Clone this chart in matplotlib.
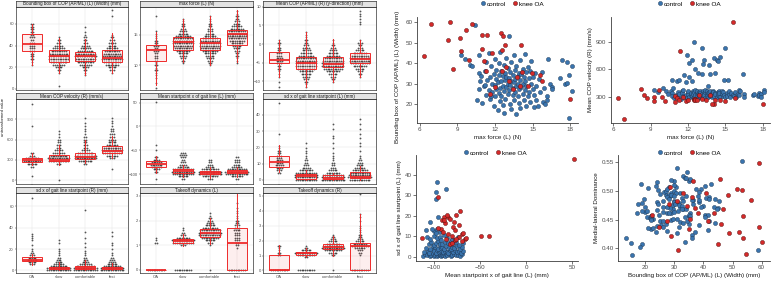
import matplotlib
matplotlib.use("Agg")
import matplotlib.pyplot as plt
from matplotlib.lines import Line2D

plt.rcParams['font.family'] = ['Liberation Sans', 'DejaVu Sans']

W, H = 771, 282

# ---------------- left block: box + swarm panels ----------------
groups = ['OA', 'slow', 'comfortable', 'fast']

titles = ["Bounding box of COP (AP/ML) (L) (Width) (mm)", "max force (L) (N)",
          "Mean COP (AP/ML) (R) (y-direction) (mm)", "Mean COP velocity (R) (mm/s)",
          "Mean startpoint x of gait line (L) (mm)", "sd x of gait line startpoint (L) (mm)",
          "sd x of gait line startpoint (R) (mm)", "Takeoff dynamics (L)", "Takeoff dynamics (R)"]

# box stats per group: (whisker low, q1, median, q3, whisker high)
bbox_box = [(22.4, 34.6, 41.3, 51.1, 60.0), (14.7, 24.8, 30.0, 35.5, 46.5),
            (13.2, 26.0, 30.0, 34.0, 46.0), (15.0, 24.8, 28.5, 35.5, 51.4)]
force_box = [(6.85, 10.65, 12.45, 13.4, 15.4), (10.5, 12.45, 13.8, 14.6, 17.6),
             (10.1, 12.45, 13.6, 14.45, 18.1), (10.5, 13.4, 15.15, 15.7, 19.0)]
meancop_box = [(-8.9, -5.2, -4.3, -2.2, 1.1), (-11.6, -6.8, -5.0, -3.4, 3.3),
               (-10.1, -6.1, -5.4, -3.4, 1.3), (-8.75, -5.0, -4.1, -2.3, 1.1)]
copvel_box = [(225, 260, 290, 325, 400), (230, 275, 300, 375, 520),
              (250, 315, 335, 400, 600), (325, 400, 430, 510, 650)]
start_box = [(-97, -85.7, -78.6, -72, -63), (-107, -98.6, -93.6, -89.3, -80.7),
             (-109, -100.7, -97, -93.6, -86), (-107, -98.6, -95, -91.4, -85.7)]
sdxl_box = [(5.1, 8.2, 11.3, 14.8, 21.5), (0, 0.8, 2.5, 3.7, 6.1),
            (0, 0.4, 1.4, 2.9, 4.5), (0, 1.0, 2.0, 5.1, 8.6)]
sdxr_box = [(5.4, 8.4, 9.9, 12.5, 15.5), (0, 0.9, 2.1, 3.6, 7.6),
            (0, 1.2, 2.4, 4.5, 9.4), (0, 1.2, 2.4, 3.6, 7.2)]
takel_box = [(0, 0, 0, 0, 0), (0.97, 1.09, 1.17, 1.24, 1.47),
             (1.04, 1.33, 1.5, 1.64, 2.1), (0, 0, 1.07, 1.71, 3.07)]
taker_box = [(0, 0, 0, 1.04, 1.7), (0.91, 1.04, 1.15, 1.26, 1.52),
             (0.98, 1.41, 1.57, 1.74, 2.28), (0, 0, 1.65, 1.85, 3.8)]

# observed points per group: (value, number of points at that value)
bbox_oa = [(22.5, 1), (25, 1), (27.5, 2), (30, 2), (32.5, 2), (35, 3), (37.5, 3), (40, 3), (42.5, 3),
           (45, 2), (47.5, 3), (50, 2), (52.5, 2), (55, 2), (57.5, 2), (60, 2)]
bbox_slow = [(2.5, 1), (15, 1), (17.5, 2), (20, 4), (22.5, 7), (25, 10), (27.5, 12), (30, 12), (32.5, 11),
             (35, 9), (37.5, 7), (40, 5), (42.5, 3), (45, 2), (47.5, 1)]
bbox_comf = [(12.5, 1), (15, 1), (17.5, 2), (20, 4), (22.5, 7), (25, 10), (27.5, 12), (30, 13), (32.5, 12),
             (35, 9), (37.5, 6), (40, 5), (42.5, 3), (45, 2), (47.5, 2), (50, 1), (52.5, 1), (57.5, 1)]
bbox_fast = [(15, 1), (17.5, 3), (20, 5), (22.5, 8), (25, 10), (27.5, 12), (30, 11), (32.5, 10), (35, 9),
             (37.5, 7), (40, 5), (42.5, 4), (45, 3), (47.5, 2), (50, 1), (67.5, 1), (72.5, 1)]

force_oa = [(6.4, 1), (7.2, 1), (8.0, 1), (8.4, 1), (8.8, 1), (9.2, 2), (9.6, 1), (10.0, 2), (10.4, 1),
            (10.8, 2), (11.2, 2), (11.6, 2), (12.0, 2), (12.4, 3), (12.8, 2), (13.2, 3), (13.6, 2),
            (14.0, 2), (14.4, 1), (14.8, 1), (15.2, 1), (15.6, 1), (18.0, 1)]
force_slow = [(10.4, 1), (10.8, 2), (11.2, 3), (11.6, 4), (12.0, 6), (12.4, 8), (12.8, 10), (13.2, 11),
              (13.6, 12), (14.0, 12), (14.4, 11), (14.8, 9), (15.2, 6), (15.6, 4), (16.0, 3), (16.4, 2),
              (16.8, 2), (17.2, 1), (17.6, 1)]
force_comf = [(10.0, 1), (10.4, 2), (10.8, 3), (11.2, 4), (11.6, 5), (12.0, 7), (12.4, 9), (12.8, 11),
              (13.2, 12), (13.6, 12), (14.0, 11), (14.4, 9), (14.8, 7), (15.2, 5), (15.6, 3), (16.0, 3),
              (16.4, 2), (16.8, 2), (17.2, 1), (17.6, 1), (18.0, 1)]
force_fast = [(10.4, 1), (10.8, 1), (11.2, 1), (11.6, 2), (12.0, 2), (12.4, 3), (12.8, 4), (13.2, 5),
              (13.6, 7), (14.0, 9), (14.4, 10), (14.8, 11), (15.2, 11), (15.6, 10), (16.0, 8), (16.4, 6),
              (16.8, 4), (17.2, 3), (17.6, 2), (18.0, 2), (18.4, 1), (18.8, 1)]

meancop_oa = [(-11.5, 1), (-10.1, 1), (-8.7, 1), (-8.0, 1), (-7.3, 1), (-6.6, 2), (-5.9, 2), (-5.2, 3),
              (-4.5, 4), (-3.8, 4), (-3.1, 3), (-2.4, 3), (-1.7, 2), (-1.0, 2), (-0.3, 1), (0.4, 2), (1.1, 1)]
meancop_slow = [(-11.5, 1), (-10.8, 1), (-10.1, 2), (-9.4, 3), (-8.7, 4), (-8.0, 6), (-7.3, 8), (-6.6, 10),
                (-5.9, 12), (-5.2, 12), (-4.5, 12), (-3.8, 11), (-3.1, 9), (-2.4, 7), (-1.7, 5), (-1.0, 4),
                (-0.3, 3), (0.4, 2), (1.1, 2), (1.8, 1), (2.5, 1), (3.2, 1)]
meancop_comf = [(-10.1, 1), (-9.4, 2), (-8.7, 3), (-8.0, 5), (-7.3, 8), (-6.6, 11), (-5.9, 13), (-5.2, 13),
                (-4.5, 12), (-3.8, 10), (-3.1, 8), (-2.4, 6), (-1.7, 4), (-1.0, 3), (-0.3, 2), (0.4, 1), (1.1, 1)]
meancop_fast = [(-8.7, 1), (-8.0, 2), (-7.3, 3), (-6.6, 5), (-5.9, 8), (-5.2, 11), (-4.5, 12), (-3.8, 12),
                (-3.1, 10), (-2.4, 8), (-1.7, 5), (-1.0, 3), (-0.3, 2), (0.4, 3), (1.1, 1), (5.3, 1), (6.0, 1),
                (6.7, 1), (7.4, 1), (8.1, 1), (8.8, 1)]

copvel_oa = [(60, 1), (200, 2), (240, 6), (280, 10), (320, 8), (360, 3), (400, 2), (800, 1), (1120, 1)]
copvel_slow = [(0, 1), (240, 3), (280, 12), (320, 13), (360, 10), (400, 7), (440, 5), (480, 3), (520, 3),
               (560, 2), (600, 2), (640, 1), (680, 1), (720, 1)]
copvel_comf = [(240, 2), (280, 8), (320, 13), (360, 13), (400, 9), (440, 5), (480, 3), (520, 3), (560, 2),
               (600, 2), (640, 2), (680, 1), (720, 1), (760, 1), (800, 1), (840, 1), (920, 1)]
copvel_fast = [(160, 1), (320, 3), (360, 7), (400, 11), (440, 12), (480, 10), (520, 7), (560, 5), (600, 4),
               (640, 3), (680, 3), (720, 2), (760, 2), (800, 1), (840, 1), (880, 1), (920, 1)]

start_oa = [(-110, 1), (-95, 2), (-90, 4), (-85, 6), (-80, 7), (-75, 6), (-70, 4), (-65, 2), (-50, 1),
            (-40, 1), (52, 1)]
start_slow = [(-110, 2), (-105, 6), (-100, 12), (-95, 14), (-90, 12), (-85, 7), (-80, 4), (-75, 3),
              (-70, 2), (-65, 3), (-60, 4), (-55, 3)]
start_comf = [(-110, 3), (-105, 9), (-100, 14), (-95, 14), (-90, 10), (-85, 5), (-80, 3), (-75, 2), (-70, 2)]
start_fast = [(-110, 2), (-105, 7), (-100, 13), (-95, 14), (-90, 11), (-85, 6), (-80, 4), (-75, 3),
              (-70, 3), (-65, 2)]

sdxl_oa = [(4.5, 2), (6, 3), (7.5, 4), (9, 5), (10.5, 4), (12, 4), (13.5, 3), (15, 3), (16.5, 2), (18, 2),
           (19.5, 1), (21, 1), (28.5, 1), (47.5, 1)]
sdxl_slow = [(0, 12), (1.5, 14), (3, 14), (4.5, 12), (6, 8), (7.5, 5), (9, 3), (10.5, 2), (12, 2), (13.5, 1),
             (15, 1), (16.5, 1), (18, 1), (19.5, 1), (22.5, 1)]
sdxl_comf = [(0, 14), (1.5, 14), (3, 12), (4.5, 8), (6, 5), (7.5, 3), (9, 2), (10.5, 2), (12, 1), (13.5, 1),
             (15, 1), (16.5, 1), (19.5, 1), (22.5, 1), (25.5, 1), (27, 1), (31.5, 1), (34.5, 1)]
sdxl_fast = [(0, 12), (1.5, 14), (3, 13), (4.5, 11), (6, 9), (7.5, 6), (9, 4), (10.5, 3), (12, 2), (13.5, 1),
             (15, 1), (18, 1), (21, 1), (22.5, 1), (25.5, 1), (28.5, 1), (31.5, 1), (34.5, 1), (37.5, 1)]

sdxr_oa = [(6, 3), (8, 5), (10, 6), (12, 5), (14, 3), (16, 2), (18, 1), (20, 1), (24, 1), (28, 1), (30, 1),
           (32, 1), (34, 1), (68, 1)]
sdxr_slow = [(0, 14), (2, 14), (4, 10), (6, 6), (8, 4), (10, 3), (12, 2), (14, 1), (16, 1), (18, 1), (20, 1),
             (26, 1), (28, 1)]
sdxr_comf = [(0, 14), (2, 14), (4, 11), (6, 7), (8, 4), (10, 3), (12, 2), (14, 1), (16, 1), (18, 1), (22, 1),
             (26, 1), (30, 1), (36, 1), (56, 1)]
sdxr_fast = [(0, 14), (2, 14), (4, 10), (6, 6), (8, 4), (10, 3), (12, 2), (14, 1), (16, 1), (20, 1), (24, 1),
             (26, 1), (32, 1), (36, 1)]

takel_oa = [(0, 10), (1.1, 2), (1.2, 1), (1.3, 1)]
takel_slow = [(0, 10), (1.0, 3), (1.1, 12), (1.2, 14), (1.3, 8), (1.4, 3), (1.5, 2), (1.6, 1), (1.7, 1)]
takel_comf = [(0, 1), (1.0, 1), (1.1, 3), (1.2, 6), (1.3, 10), (1.4, 13), (1.5, 14), (1.6, 12), (1.7, 9),
              (1.8, 6), (1.9, 4), (2.0, 3), (2.1, 2), (2.2, 1), (2.3, 1)]
takel_fast = [(0, 10), (0.9, 1), (1.0, 2), (1.1, 2), (1.2, 3), (1.3, 3), (1.4, 3), (1.5, 3), (1.6, 4),
              (1.7, 3), (1.8, 3), (1.9, 2), (2.0, 2), (2.1, 1), (2.2, 1), (2.3, 1), (2.4, 1), (2.5, 1), (2.7, 1)]

taker_oa = [(0, 10), (1.05, 2), (1.2, 2), (1.35, 1), (1.5, 1), (1.65, 2)]
taker_slow = [(0, 10), (0.9, 2), (1.05, 10), (1.2, 14), (1.35, 6), (1.5, 2), (1.65, 1)]
taker_comf = [(0, 1), (1.05, 2), (1.2, 5), (1.35, 10), (1.5, 14), (1.65, 12), (1.8, 8), (1.95, 5), (2.1, 3),
              (2.25, 2), (2.4, 1)]
taker_fast = [(0, 10), (1.05, 1), (1.2, 2), (1.35, 3), (1.5, 6), (1.65, 10), (1.8, 8), (1.95, 5), (2.1, 3),
              (2.25, 2), (2.4, 2), (2.55, 1), (2.7, 1), (2.85, 1), (3.0, 1), (3.3, 1), (3.6, 1), (3.75, 1),
              (5.15, 1)]

# ---------------- right block: scatter data ----------------
ctrl_force = [9.3, 9.6, 9.98, 10.2, 10.4, 10.6, 10.7, 10.75, 10.75, 10.83,
              10.9, 11.0, 11.1, 11.2, 11.2, 11.3, 11.3, 11.4, 11.5, 11.5,
              11.6, 11.6, 11.7, 11.7, 11.8, 11.8, 11.9, 11.9, 12.0, 12.0,
              12.0, 12.1, 12.1, 12.1, 12.2, 12.2, 12.3, 12.3, 12.3, 12.4,
              12.4, 12.4, 12.5, 12.5, 12.5, 12.6, 12.6, 12.6, 12.7, 12.7,
              12.7, 12.8, 12.8, 12.8, 12.9, 12.9, 12.9, 13.0, 13.0, 13.0,
              13.1, 13.1, 13.1, 13.2, 13.2, 13.2, 13.3, 13.3, 13.3, 13.4,
              13.4, 13.4, 13.5, 13.5, 13.5, 13.6, 13.6, 13.6, 13.7, 13.7,
              13.7, 13.8, 13.8, 13.8, 13.9, 13.9, 13.9, 14.0, 14.0, 14.0,
              14.1, 14.1, 14.2, 14.2, 14.2, 14.3, 14.3, 14.4, 14.4, 14.4,
              14.5, 14.5, 14.5, 14.6, 14.6, 14.7, 14.7, 14.8, 14.8, 14.9,
              14.9, 15.0, 15.0, 15.1, 15.1, 15.2, 15.3, 15.3, 15.4, 15.5,
              15.6, 15.7, 15.8, 15.9, 16.0, 16.1, 16.1, 16.4, 16.5, 16.5,
              17.2, 17.3, 17.6, 17.7, 17.7, 17.9, 17.9, 18.1, 18.1, 16.2]
ctrl_bbox = [43.7, 42.0, 39.2, 38.4, 58.7, 22.1, 27.3, 35.1, 44.1, 31.1,
             33.5, 20.5, 29.0, 29.4, 36.0, 24.6, 40.5, 31.5, 27.0, 45.0,
             33.0, 22.5, 23.7, 38.5, 30.0, 26.0, 34.5, 19.0, 42.0, 29.5,
             24.0, 32.0, 36.5, 27.5, 17.0, 30.5, 40.0, 25.5, 34.0, 21.5,
             28.0, 45.5, 31.0, 36.0, 24.0, 19.5, 33.5, 29.0, 39.0, 26.5,
             15.5, 31.5, 35.0, 22.5, 28.5, 42.5, 33.0, 25.0, 30.0, 37.5,
             53.3, 27.0, 32.5, 20.0, 35.5, 29.5, 17.5, 40.5, 31.0, 24.5,
             34.0, 28.0, 44.0, 30.5, 22.0, 36.5, 26.0, 32.0, 15.0, 29.0,
             38.5, 33.5, 24.0, 30.0, 20.5, 35.0, 27.5, 41.5, 31.5, 18.0,
             28.5, 34.5, 25.0, 37.0, 30.0, 22.0, 33.0, 44.5, 27.0, 31.0,
             19.0, 35.5, 29.0, 24.0, 38.0, 32.5, 26.0, 21.0, 36.0, 30.0,
             41.0, 27.5, 33.0, 18.5, 24.5, 35.0, 22.1, 29.0, 18.9, 32.0,
             26.0, 35.5, 21.0, 28.0, 20.0, 23.7, 21.8, 30.0, 28.3, 27.3,
             32.7, 41.6, 29.7, 40.5, 30.2, 34.0, 13.2, 38.4, 26.2, 42.0]
ctrl_vel = [380, 350, 400, 370, 330, 360, 480, 340, 310, 400,
            290, 320, 470, 300, 350, 480, 330, 280, 360, 340,
            310, 380, 540, 300, 460, 320, 760, 290, 350, 330,
            370, 670, 520, 300, 320, 340, 700, 470, 310, 360,
            290, 330, 900, 350, 300, 600, 320, 380, 340, 310,
            360, 330, 560, 290, 350, 320, 300, 370, 340, 310,
            550, 830, 330, 660, 300, 360, 700, 340, 320, 290,
            350, 380, 330, 310, 360, 340, 300, 420, 650, 320,
            350, 550, 310, 370, 340, 300, 330, 360, 320, 350,
            730, 310, 560, 340, 330, 700, 300, 690, 350, 320,
            310, 360, 340, 740, 300, 330, 370, 310, 350, 320,
            480, 830, 300, 340, 310, 480, 330, 360, 300, 340,
            320, 310, 350, 300, 330, 380, 320, 550, 330, 300,
            320, 330, 310, 340, 320, 330, 300, 380, 350, 370]
ctrl_mld = [0.472, 0.448, 0.503, 0.481, 0.398, 0.433, 0.462, 0.518, 0.487, 0.466,
            0.412, 0.455, 0.497, 0.476, 0.424, 0.458, 0.509, 0.437, 0.494, 0.471,
            0.527, 0.452, 0.428, 0.484, 0.501, 0.463, 0.534, 0.407, 0.489, 0.469,
            0.516, 0.446, 0.478, 0.431, 0.461, 0.496, 0.474, 0.441, 0.492, 0.453,
            0.508, 0.483, 0.541, 0.418, 0.467, 0.486, 0.523, 0.449, 0.473, 0.499,
            0.388, 0.479, 0.457, 0.436, 0.491, 0.512, 0.468, 0.447, 0.482, 0.504,
            0.552, 0.443, 0.488, 0.464, 0.521, 0.451, 0.477, 0.459, 0.426, 0.502,
            0.469, 0.493, 0.445, 0.507, 0.456, 0.485, 0.438, 0.473, 0.409, 0.462,
            0.498, 0.454, 0.481, 0.517, 0.466, 0.442, 0.489, 0.458, 0.476, 0.402,
            0.471, 0.448, 0.495, 0.429, 0.511, 0.457, 0.483, 0.468, 0.501, 0.452,
            0.479, 0.461, 0.519, 0.439, 0.492, 0.474, 0.447, 0.506, 0.484, 0.463,
            0.488, 0.472, 0.444, 0.513, 0.478, 0.459, 0.451, 0.494, 0.466, 0.497,
            0.482, 0.457, 0.436, 0.487, 0.473, 0.509, 0.449, 0.481, 0.462, 0.503,
            0.468, 0.432, 0.491, 0.454, 0.477, 0.522, 0.419, 0.441, 0.473, 0.486]

oa_force = [6.37, 6.88, 8.23, 8.44, 8.7, 9.24, 9.29, 9.66, 9.9, 10.16,
            10.96, 10.96, 11.1, 11.36, 11.25, 11.6, 11.8, 12.0, 12.45, 12.52,
            12.55, 12.6, 12.76, 12.87, 14.06, 14.14, 14.6, 14.97, 15.6, 15.76,
            18.0, 13.1, 13.45, 13.77, 13.95]
oa_bbox = [43.6, 59.0, 51.4, 60.3, 37.2, 52.2, 45.7, 56.3, 41.6, 59.0,
           53.5, 46.8, 40.8, 53.5, 35.9, 24.7, 44.9, 28.3, 54.6, 46.2,
           36.3, 53.3, 48.9, 38.0, 48.6, 35.4, 28.6, 35.0, 34.3, 31.2,
           22.4, 31.0, 27.5, 33.0, 29.0]
oa_vel = [293, 64, 391, 325, 293, 300, 256, 373, 300, 256,
          311, 245, 293, 802, 264, 300, 256, 264, 275, 264,
          278, 271, 264, 318, 227, 264, 271, 253, 1115, 290,
          227, 278, 264, 318, 227]
oa_mld = [0.462, 0.438, 0.503, 0.412, 0.471, 0.428, 0.521, 0.484, 0.447, 0.549,
          0.419, 0.468, 0.497, 0.456, 0.489, 0.437, 0.408, 0.478, 0.391, 0.443,
          0.517, 0.502, 0.426, 0.461, 0.493, 0.452, 0.508, 0.433, 0.474, 0.398,
          0.458, 0.482, 0.447, 0.496, 0.421]

ctrl_startx = [-112, -110, -108, -106, -104, -103, -101, -100, -99, -98, -97, -96, -95, -94, -93,
               -92, -91, -90, -89, -88, -87, -86, -84, -82, -80, -78, -76, -74, -72, -70,
               -111, -107, -105, -102, -100, -98, -97, -95, -93, -92, -90, -88, -86, -85, -83,
               -81, -79, -77, -75, -73, -71, -69,
               -109, -104, -101, -99, -96, -94, -92, -91, -89, -87, -84, -82, -80, -78, -75,
               -72, -70,
               -106, -103, -100, -98, -96, -93, -91, -88, -85, -82, -79, -76, -73, -69,
               -108, -104, -100, -97, -94, -92, -89, -86, -80, -74,
               -96.4, -97.5, -97.5, -86.6, -95.7, -104.7, -109, -100, -96.4, -101.8, -94, -98]
ctrl_sdx = [0.3, 1.0, 0.6, 1.4, 0.2, 0.8, 1.2, 0.4, 0.9, 1.5, 0.1, 0.7, 1.1, 0.5, 1.3,
            0.2, 0.9, 0.6, 1.4, 0.3, 1.0, 0.7, 1.2, 0.4, 0.8, 1.1, 0.5, 0.9, 0.3, 1.2,
            2.1, 2.8, 1.9, 3.3, 2.5, 1.8, 3.0, 2.2, 2.7, 3.4, 2.0, 2.9, 2.4, 1.7, 3.1,
            2.6, 2.0, 3.2, 2.3, 2.8, 1.9, 2.5,
            4.2, 3.8, 5.0, 4.5, 3.7, 5.3, 4.1, 4.8, 3.9, 5.1, 4.4, 3.6, 4.9, 4.3, 5.2,
            3.8, 4.6,
            6.1, 7.2, 5.8, 6.8, 7.5, 6.3, 5.9, 7.0, 6.5, 7.4, 6.0, 6.9, 5.7, 6.6,
            9.4, 8.6, 10.2, 8.9, 9.8, 8.3, 10.6, 9.1, 8.5, 9.6,
            36.4, 31.7, 28.0, 33.2, 19.3, 17.1, 13.0, 12.5, 13.3, 13.7, 12.0, 11.5]
oa_startx = [-112.7, -95.7, -91.3, -89, -84.8, -83, -86, -92, -88.4, -79.3,
             -77.5, -75.7, -72, -81, -84.8, -73.2, -69.6, -68, -66.6, -72.4,
             -77.5, -75.7, -83, -49, -40, 52.4, -95.7, -89, -86.6, -65,
             -80, -70, -90, -78]
oa_sdx = [8.9, 29.3, 17.9, 19.5, 19.5, 18.5, 20.5, 13.3, 16.3, 14.5,
          12.8, 20.2, 22.3, 10.1, 10.9, 15.3, 11.2, 11.7, 8.8, 9.8,
          8.0, 8.5, 6.3, 10.1, 10.1, 47.8, 14.1, 17.7, 8.5, 9.2,
          6.8, 7.8, 12.0, 17.0]

# ---------------- drawing ----------------
RED = '#ee2a2a'
BLUE = '#3a74ae'
REDP = '#d42a2a'
DARK = '#333333'


def rect(x0, y0, x1, y1):
    return [x0 / W, 1 - y1 / H, (x1 - x0) / W, (y1 - y0) / H]


fig = plt.figure(figsize=(W / 100, H / 100), dpi=100)

cols = [(16, 128), (140, 253), (263, 376)]
rows = [(6.5, 90), (99, 184), (193, 273)]

panels = [
    (titles[0], bbox_box, [bbox_oa, bbox_slow, bbox_comf, bbox_fast], (-1, 76), [0, 20, 40, 60]),
    (titles[1], force_box, [force_oa, force_slow, force_comf, force_fast], (6.0, 19.6), [10, 15]),
    (titles[2], meancop_box, [meancop_oa, meancop_slow, meancop_comf, meancop_fast], (-12.3, 10.05),
     [-10, -5, 0, 5, 10]),
    (titles[3], copvel_box, [copvel_oa, copvel_slow, copvel_comf, copvel_fast], (-59, 1201),
     [0, 300, 600, 900]),
    (titles[4], start_box, [start_oa, start_slow, start_comf, start_fast], (-121, 57.8), [-100, -50, 0, 50]),
    (titles[5], sdxl_box, [sdxl_oa, sdxl_slow, sdxl_comf, sdxl_fast], (-2.5, 49.8), [0, 10, 20, 30, 40]),
    (titles[6], sdxr_box, [sdxr_oa, sdxr_slow, sdxr_comf, sdxr_fast], (-2.4, 72.3), [0, 20, 40, 60]),
    (titles[7], takel_box, [takel_oa, takel_slow, takel_comf, takel_fast], (-0.13, 3.12), [0, 1, 2, 3]),
    (titles[8], taker_box, [taker_oa, taker_slow, taker_comf, taker_fast], (-0.17, 5.19),
     [0, 1, 2, 3, 4, 5]),
]

DX = 0.065
for i, (title, box, pts, ylim, yticks) in enumerate(panels):
    r, c = divmod(i, 3)
    x0, x1 = cols[c]
    y0, y1 = rows[r]
    ax = fig.add_axes(rect(x0, y0, x1, y1))
    ax.set_facecolor('white')
    xs, ys = [], []
    for g, gp in enumerate(pts):
        for v, n in gp:
            for k in range(n):
                xs.append(g + 1 + (k - (n - 1) / 2) * DX)
                ys.append(v)
    ax.scatter(xs, ys, s=1.7, c='#151515', alpha=0.72, linewidths=0, zorder=2)
    stats = [dict(whislo=b[0], q1=b[1], med=b[2], q3=b[3], whishi=b[4]) for b in box]
    ax.bxp(stats, positions=[1, 2, 3, 4], widths=0.75, patch_artist=True, showfliers=False,
           showcaps=False,
           boxprops=dict(facecolor=(0.93, 0.16, 0.16, 0.08), edgecolor=RED, linewidth=0.7),
           medianprops=dict(color=RED, linewidth=1.3),
           whiskerprops=dict(color=RED, linewidth=0.7))
    ax.set_xlim(0.4, 4.6)
    ax.set_ylim(*ylim)
    ax.set_yticks(yticks)
    ax.set_xticks([1, 2, 3, 4])
    if r == 2:
        ax.set_xticklabels(groups)
    else:
        ax.set_xticklabels([])
    ax.grid(True, color='#e4e4e4', lw=0.35)
    ax.set_axisbelow(True)
    ax.tick_params(labelsize=3.0, length=1.0, width=0.35, pad=0.6, colors=DARK, labelcolor='#4d4d4d')
    for s in ax.spines.values():
        s.set_color(DARK)
        s.set_linewidth(0.5)
    sax = fig.add_axes(rect(x0, y0 - 6, x1, y0))
    sax.set_facecolor('#e3e3e3')
    sax.set_xticks([])
    sax.set_yticks([])
    for s in sax.spines.values():
        s.set_color(DARK)
        s.set_linewidth(0.5)
    sax.text(0.5, 0.45, title, ha='center', va='center', fontsize=3.3, color='#1a1a1a',
             transform=sax.transAxes)

fig.text(2.6 / W, 1 - 117 / H, 'untransformed value', rotation=90, ha='center', va='center',
         fontsize=3.1, color='#1a1a1a')


def scatter_panel(r, xc, yc, xo, yo, xlim, ylim, xticks, yticks, xlabel, ylabel, leg, ytl=None):
    ax = fig.add_axes(rect(*r))
    ax.scatter(xc, yc, s=9, c=BLUE, edgecolors='#1d3550', linewidths=0.3, zorder=3)
    ax.scatter(xo, yo, s=9, c=REDP, edgecolors='#4a0d0d', linewidths=0.3, zorder=4)
    ax.set_xlim(*xlim)
    ax.set_ylim(*ylim)
    ax.set_xticks(xticks)
    ax.set_yticks(yticks)
    if ytl is not None:
        ax.set_yticklabels(ytl)
    for s in ['top', 'right']:
        ax.spines[s].set_visible(False)
    for s in ['left', 'bottom']:
        ax.spines[s].set_color('#3d3d3d')
        ax.spines[s].set_linewidth(0.6)
    ax.tick_params(labelsize=4.5, length=2, width=0.5, pad=1.2, colors='#3d3d3d', labelcolor='#4d4d4d')
    ax.set_xlabel(xlabel, fontsize=4.5, labelpad=1.5, color='#1a1a1a')
    ax.set_ylabel(ylabel, fontsize=4.5, labelpad=2, color='#1a1a1a')
    handles = [Line2D([], [], marker='o', ls='', color=BLUE, markeredgecolor='#1d3550',
                      markeredgewidth=0.3, markersize=3, label='control'),
               Line2D([], [], marker='o', ls='', color=REDP, markeredgecolor='#4a0d0d',
                      markeredgewidth=0.3, markersize=3, label='knee OA')]
    fig.legend(handles=handles, loc='center', bbox_to_anchor=(leg[0] / W, 1 - leg[1] / H), ncol=2,
               frameon=False, fontsize=4.6, handletextpad=0.2, columnspacing=1.0, borderpad=0,
               handlelength=0.8)
    return ax


ax1 = scatter_panel((417, 17, 578, 123), ctrl_force, ctrl_bbox, oa_force, oa_bbox,
                    (5.8, 18.6), (10.7, 62.5), [6, 9, 12, 15, 18], [20, 30, 40, 50, 60],
                    'max force (L) (N)', 'Bounding box of COP (AP/ML) (L) (Width) (mm)', (512, 4))
ax1.yaxis.set_label_coords(-0.105, 0.44)
scatter_panel((611, 17, 770, 123), ctrl_force, ctrl_vel, oa_force, oa_vel,
              (5.8, 18.6), (16, 1173), [6, 9, 12, 15, 18], [300, 600, 900],
              'max force (L) (N)', 'Mean COP velocity (R) (mm/s)', (689, 4))
scatter_panel((416, 155, 578, 261), ctrl_startx, ctrl_sdx, oa_startx, oa_sdx,
              (-119.6, 56.5), (-2.2, 49.8), [-100, -50, 0, 50], [0, 10, 20, 30, 40],
              'Mean startpoint x of gait line (L) (mm)', 'sd x of gait line startpoint (L) (mm)', (495, 153))
scatter_panel((618, 155, 770, 261), ctrl_bbox, ctrl_mld, oa_bbox, oa_mld,
              (10.6, 62.9), (0.378, 0.563), [20, 30, 40, 50, 60], [0.40, 0.45, 0.50, 0.55],
              'Bounding box of COP (AP/ML) (L) (Width) (mm)', 'Medial-lateral Dominance', (689, 153),
              ytl=['0.40', '0.45', '0.50', '0.55'])

fig.savefig('out.png', dpi=100)
